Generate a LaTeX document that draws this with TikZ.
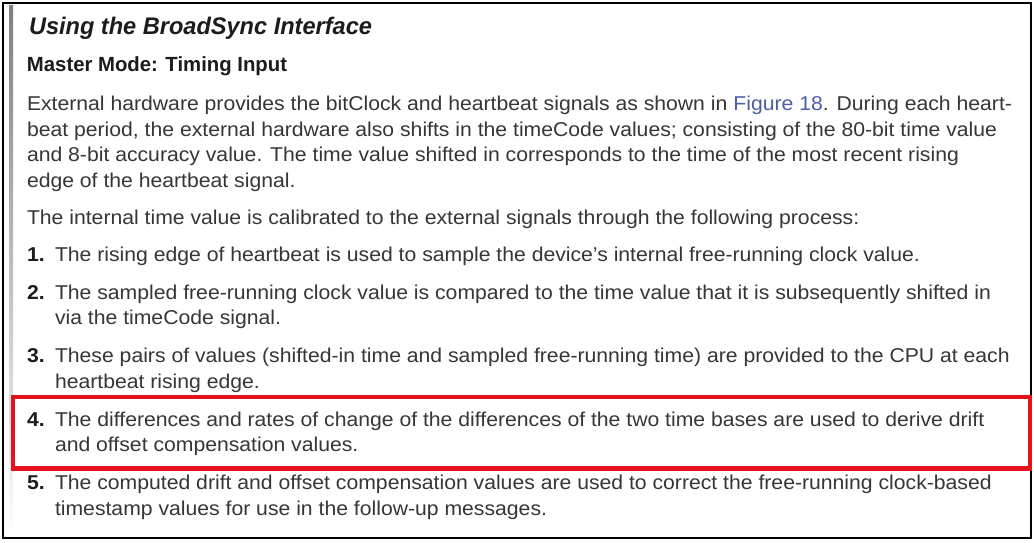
\documentclass[tikz,border=0pt]{standalone}
\usepackage{fontspec}
\setmainfont{Liberation Sans}
\usepackage{graphicx}
\definecolor{txt}{HTML}{363636}
\definecolor{headc}{HTML}{1C1C1C}
\definecolor{lnk}{HTML}{4B5EA6}
\definecolor{hl}{HTML}{E3121B}
\definecolor{shade}{HTML}{C8C8C8}
\newsavebox\refbox
\newlength\reflen
\newcommand\bodyfont{\fontsize{20}{24}\selectfont}
\newcommand\bline[1]{\scalebox{\hs}[1]{\bodyfont\color{txt}#1}}
\newcommand\bnum[1]{\scalebox{\hs}[1]{\bodyfont\bfseries\color{headc}#1}}
\tikzset{
  txtline/.style={anchor=base west, inner sep=0pt, outer sep=0pt},
  frameline/.style={draw=black, line width=1.6pt},
  redbox/.style={draw=hl, line width=4.5pt, inner sep=0pt, anchor=north west}
}
\begin{document}
\sbox\refbox{\bodyfont External hardware provides the bitClock and heartbeat signals as shown in Figure 18. During each heart-}%
\setlength\reflen{\wd\refbox}%
\pgfmathsetmacro\hs{985/\reflen}%
\begin{tikzpicture}[x=1pt,y=-1pt]
\useasboundingbox (0,0) rectangle (1034,542);
\fill[white] (0,0) rectangle (1034,542);
% frame
\fill[shade] (9,5) rectangle (13,536);
\draw[frameline] (3,3) rectangle (1031,538);
% headings
\node[txtline] (title) at (29,34) {\resizebox{343pt}{\height}{\fontsize{24}{28}\selectfont\bfseries\itshape\color{headc}Using the BroadSync Interface}};
\node[txtline] (master) at (27,71) {\resizebox{260pt}{\height}{\fontsize{20.5}{24}\selectfont\bfseries\color{headc}Master Mode: Timing Input}};
% paragraph
\node[txtline] (p1) at (27,110.5) {\bline{External hardware provides the bitClock and heartbeat signals as shown in {\color{lnk}Figure 18}. During each heart-}};
\node[txtline] (p2) at (27,136) {\bline{beat period, the external hardware also shifts in the timeCode values; consisting of the 80-bit time value}};
\node[txtline] (p3) at (27,161.5) {\bline{and 8-bit accuracy value. The time value shifted in corresponds to the time of the most recent rising}};
\node[txtline] (p4) at (27,187) {\bline{edge of the heartbeat signal.}};
\node[txtline] (p5) at (27,224) {\bline{The internal time value is calibrated to the external signals through the following process:}};
% items
\node[txtline] (n1) at (27,261.5) {\bnum{1.}};
\node[txtline] (i1) at (55,261.5) {\bline{The rising edge of heartbeat is used to sample the device's internal free-running clock value.}};
\node[txtline] (n2) at (27,299) {\bnum{2.}};
\node[txtline] (i2a) at (55,299) {\bline{The sampled free-running clock value is compared to the time value that it is subsequently shifted in}};
\node[txtline] (i2b) at (55,324.5) {\bline{via the timeCode signal.}};
\node[txtline] (n3) at (27,362.5) {\bnum{3.}};
\node[txtline] (i3a) at (55,362.5) {\bline{These pairs of values (shifted-in time and sampled free-running time) are provided to the CPU at each}};
\node[txtline] (i3b) at (55,388) {\bline{heartbeat rising edge.}};
\node[txtline] (n4) at (27,426) {\bnum{4.}};
\node[txtline] (i4a) at (55,426) {\bline{The differences and rates of change of the differences of the two time bases are used to derive drift}};
\node[txtline] (i4b) at (55,451.5) {\bline{and offset compensation values.}};
\node[txtline] (n5) at (27,489.5) {\bnum{5.}};
\node[txtline] (i5a) at (55,489.5) {\bline{The computed drift and offset compensation values are used to correct the free-running clock-based}};
\node[txtline] (i5b) at (55,515) {\bline{timestamp values for use in the follow-up messages.}};
% highlight
\node[redbox, minimum width=1017pt, minimum height=71.5pt] (hlbox) at (10.5,394.5) {};
\end{tikzpicture}
\end{document}
